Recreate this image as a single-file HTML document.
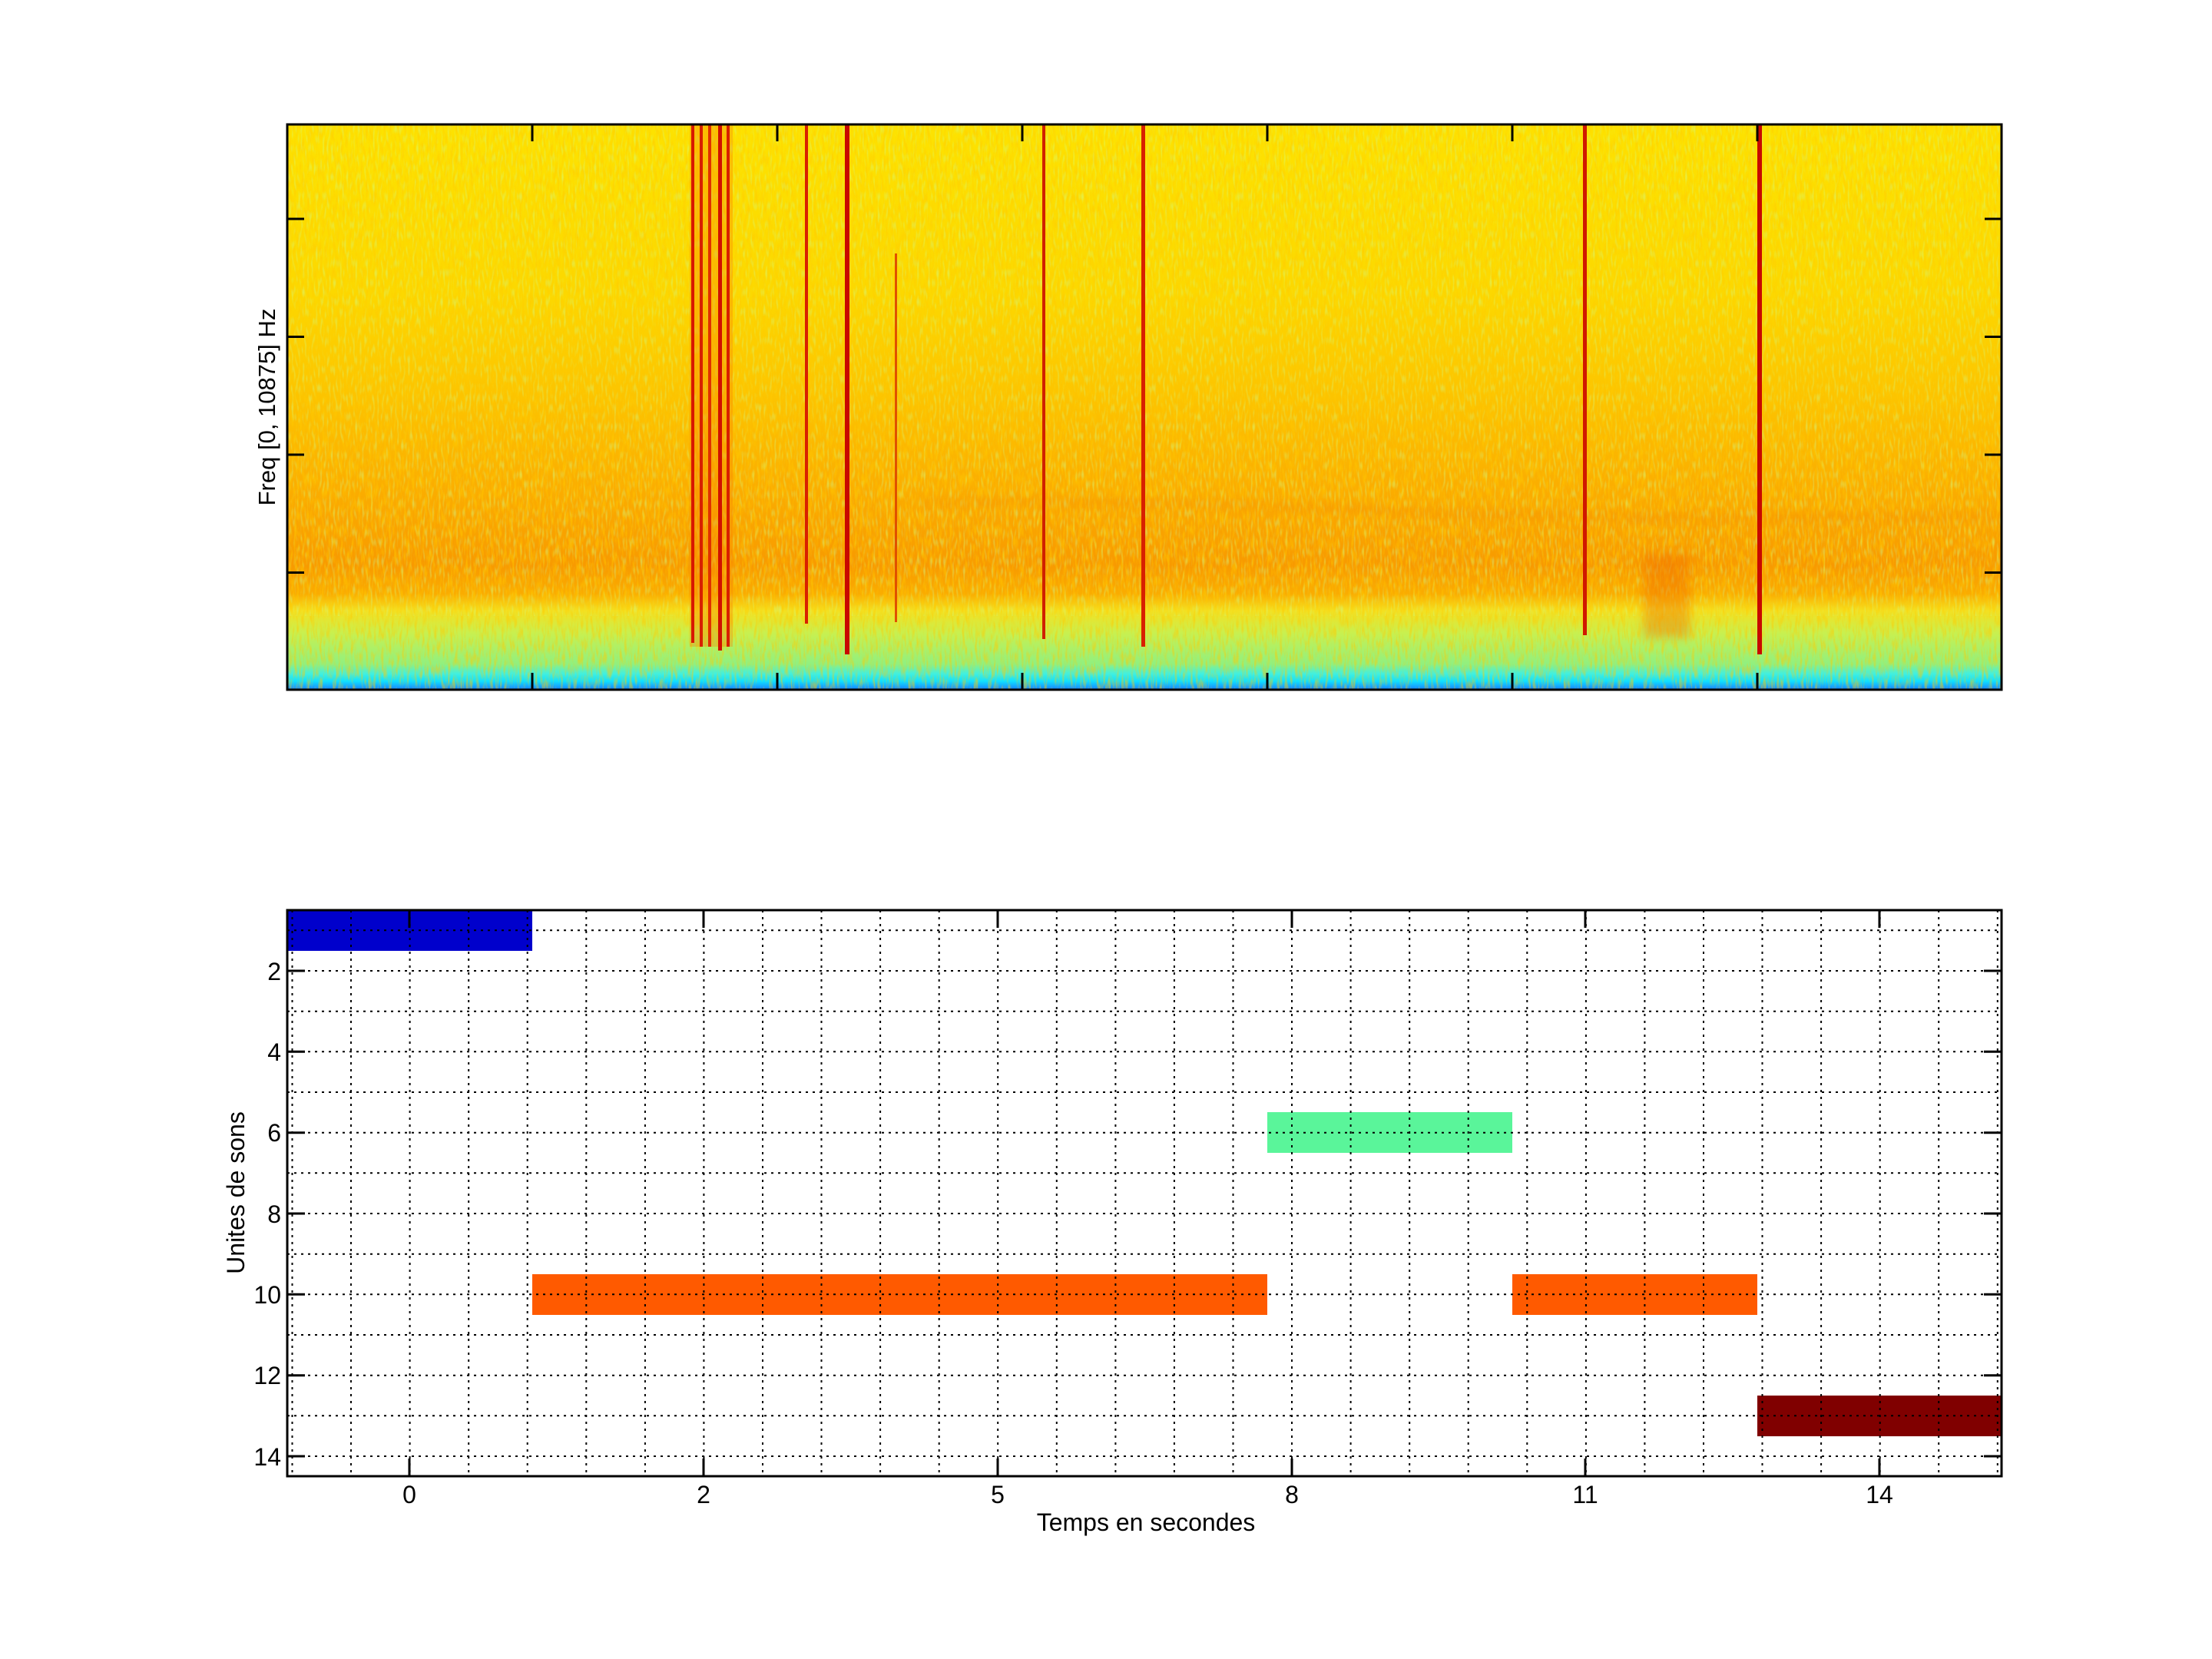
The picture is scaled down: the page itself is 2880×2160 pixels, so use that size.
<!DOCTYPE html>
<html><head><meta charset="utf-8"><style>
html,body{margin:0;padding:0;background:#fff;}
svg{display:block;}
text{font-family:"Liberation Sans",sans-serif;fill:#000;}
</style></head><body>
<svg width="2880" height="2160" viewBox="0 0 2880 2160" xmlns="http://www.w3.org/2000/svg">
<defs>
<linearGradient id="bg" x1="0" y1="0" x2="0" y2="1">
<stop offset="0" stop-color="#fde200"/>
<stop offset="0.30" stop-color="#fcd800"/>
<stop offset="0.48" stop-color="#fcc400"/>
<stop offset="0.64" stop-color="#fbae00"/>
<stop offset="0.78" stop-color="#f89a00"/>
<stop offset="0.83" stop-color="#faac00"/>
<stop offset="0.86" stop-color="#f4e020"/>
<stop offset="0.90" stop-color="#c8f050"/>
<stop offset="0.955" stop-color="#90f080"/>
<stop offset="0.972" stop-color="#40f0e0"/>
<stop offset="0.985" stop-color="#10e0ff"/>
<stop offset="1" stop-color="#1880ff"/>
</linearGradient>
<filter id="nz" x="0" y="0" width="1" height="1">
<feTurbulence type="fractalNoise" baseFrequency="0.3 0.06" numOctaves="2" seed="3"/>
<feColorMatrix type="matrix" values="0 0 0 0 1  0 0 0 0 0.6  0 0 0 0 0  0 0 0 3 -1.3"/>
</filter>
<filter id="nz2" x="0" y="0" width="1" height="1">
<feTurbulence type="fractalNoise" baseFrequency="0.35 0.08" numOctaves="1" seed="9"/>
<feColorMatrix type="matrix" values="0 0 0 0 0.6  0 0 0 0 1  0 0 0 0 0.3  0 0 0 3 -1.5"/>
</filter>
<filter id="bl"><feGaussianBlur stdDeviation="6"/></filter>
</defs>

<!-- Spectrogram -->
<rect x="374" y="162" width="2232" height="736" fill="url(#bg)"/>
<rect x="374" y="162" width="2232" height="736" filter="url(#nz)" opacity="0.5"/>
<rect x="374" y="162" width="2232" height="640" filter="url(#nz2)" opacity="0.45"/>
<g filter="url(#bl)" opacity="0.35">
<rect x="2140" y="720" width="60" height="110" fill="#f06000"/>
<path d="M1200 655 Q1500 650 1800 665 Q2200 680 2600 672" stroke="#f07000" stroke-width="5" fill="none"/>
</g>
<g>
<rect x="898" y="162" width="56" height="680" fill="#f88000" opacity="0.35"/>
<rect x="900" y="162" width="4" height="675" fill="#d81800"/>
<rect x="911" y="162" width="4" height="680" fill="#d82000"/>
<rect x="922" y="162" width="4" height="680" fill="#e03000"/>
<rect x="935" y="162" width="5" height="685" fill="#d01000"/>
<rect x="946" y="162" width="4" height="680" fill="#d82000"/>
<rect x="1048" y="162" width="4" height="650" fill="#d82000"/>
<rect x="1100" y="162" width="6" height="690" fill="#c80800"/>
<rect x="1165" y="330" width="3" height="480" fill="#e05000"/>
<rect x="1357" y="162" width="4" height="670" fill="#d02000"/>
<rect x="1486" y="162" width="5" height="680" fill="#d82000"/>
<rect x="2061" y="162" width="5" height="665" fill="#d01800"/>
<rect x="2288" y="162" width="6" height="690" fill="#c80800"/>
</g>
<rect x="374" y="162" width="2232" height="736" fill="none" stroke="#000" stroke-width="3"/>
<g stroke="#000" stroke-width="3">
<path d="M693 162v22M1012 162v22M1331 162v22M1650 162v22M1969 162v22M2288 162v22"/>
<path d="M693 898v-22M1012 898v-22M1331 898v-22M1650 898v-22M1969 898v-22M2288 898v-22"/>
<path d="M374 285h22M374 438.5h22M374 592h22M374 745.5h22"/>
<path d="M2606 285h-22M2606 438.5h-22M2606 592h-22M2606 745.5h-22"/>
</g>
<text transform="translate(358,530) rotate(-90)" text-anchor="middle" font-size="31">Freq [0, 10875] Hz</text>

<!-- Bottom plot -->
<rect x="374" y="1185" width="2232" height="737" fill="#fff"/>
<rect x="374" y="1185" width="319" height="53" fill="#0000cc"/>
<rect x="1650" y="1448" width="319" height="53" fill="#5af59a"/>
<rect x="693" y="1659" width="957" height="53" fill="#ff5a00"/>
<rect x="1969" y="1659" width="319" height="53" fill="#ff5a00"/>
<rect x="2288" y="1817" width="318" height="53" fill="#800000"/>
<g stroke="#000" stroke-width="2" stroke-dasharray="3,6" fill="none">
<path d="M380.5 1185V1922M457 1185V1922M533.6 1185V1922M610.2 1185V1922M686.7 1185V1922M763.3 1185V1922M839.9 1185V1922M916.4 1185V1922M993 1185V1922M1069.5 1185V1922M1146.1 1185V1922M1222.7 1185V1922M1299.2 1185V1922M1375.8 1185V1922M1452.4 1185V1922M1528.9 1185V1922M1605.5 1185V1922M1682 1185V1922M1758.6 1185V1922M1835.2 1185V1922M1911.7 1185V1922M1988.3 1185V1922M2064.9 1185V1922M2141.4 1185V1922M2218 1185V1922M2294.5 1185V1922M2371.1 1185V1922M2447.7 1185V1922M2524.2 1185V1922M2600.8 1185V1922"/>
<path d="M374 1211.3H2606M374 1264H2606M374 1316.7H2606M374 1369.3H2606M374 1422H2606M374 1474.7H2606M374 1527.3H2606M374 1580H2606M374 1632.7H2606M374 1685.3H2606M374 1738H2606M374 1790.7H2606M374 1843.3H2606M374 1896H2606"/>
</g>
<rect x="374" y="1185" width="2232" height="737" fill="none" stroke="#000" stroke-width="3"/>
<g stroke="#000" stroke-width="3">
<path d="M533 1922v-23M916 1922v-23M1299 1922v-23M1682 1922v-23M2064 1922v-23M2447 1922v-23"/>
<path d="M533 1185v23M916 1185v23M1299 1185v23M1682 1185v23M2064 1185v23M2447 1185v23"/>
<path d="M374 1264h23M374 1369.3h23M374 1474.7h23M374 1580h23M374 1685.3h23M374 1790.7h23M374 1896h23"/>
<path d="M2606 1264h-23M2606 1369.3h-23M2606 1474.7h-23M2606 1580h-23M2606 1685.3h-23M2606 1790.7h-23M2606 1896h-23"/>
</g>
<g font-size="32" text-anchor="end">
<text x="366" y="1276">2</text>
<text x="366" y="1381">4</text>
<text x="366" y="1486">6</text>
<text x="366" y="1592">8</text>
<text x="366" y="1697">10</text>
<text x="366" y="1802">12</text>
<text x="366" y="1908">14</text>
</g>
<g font-size="32" text-anchor="middle">
<text x="533" y="1957">0</text>
<text x="916" y="1957">2</text>
<text x="1299" y="1957">5</text>
<text x="1682" y="1957">8</text>
<text x="2064" y="1957">11</text>
<text x="2447" y="1957">14</text>
</g>
<text x="1492" y="1993" text-anchor="middle" font-size="32">Temps en secondes</text>
<text transform="translate(318,1553) rotate(-90)" text-anchor="middle" font-size="32">Unites de sons</text>
</svg>
</body></html>
